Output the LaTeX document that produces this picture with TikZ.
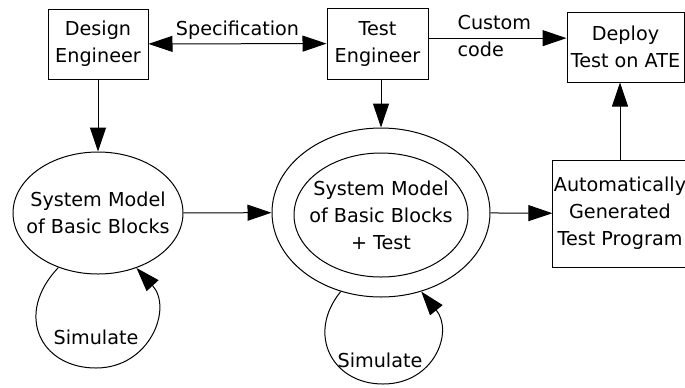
\documentclass[tikz,border=0pt]{standalone}
\usepackage{fontspec}
\setmainfont{DejaVu Sans}
\usetikzlibrary{shapes.geometric,arrows.meta}

\tikzset{every picture/.style={line width=0.75pt}}
\tikzset{
  blk/.style={draw, rectangle, align=center, inner sep=0.75pt},
  bubble/.style={draw, ellipse, inner sep=0pt},
  txt/.style={inner sep=0.75pt, align=center},
  flow/.style={-{Triangle[length=18pt,width=12pt]}},
  both/.style={{Triangle[length=18pt,width=12pt]}-{Triangle[length=18pt,width=12pt]}},
}

\begin{document}
\begin{tikzpicture}[x=0.75pt,y=0.75pt,yscale=-1,xscale=1,font=\fontsize{14.4pt}{20.25pt}\selectfont]
	\useasboundingbox (0,0) rectangle (685,387);
	
	%Shape: Rectangle [design]
	\node[blk, minimum width=75pt, minimum height=52.5pt] (design) at (98,44) {Design\\Engineer};
	%Shape: Rectangle [tester]
	\node[blk, minimum width=75.75pt, minimum height=53.25pt] (tester) at (377.5,43.5) {Test\\Engineer};
	%Shape: Rectangle [deploy]
	\node[blk, minimum width=87.75pt, minimum height=52.5pt] (deploy) at (625.5,47) {Deploy\\Test on ATE};
	%Shape: Rectangle [autogen]
	\node[blk, minimum width=100.5pt, minimum height=80.25pt] (autogen) at (620,213.5) {Automatically\\Generated\\Test Program};
	
	%Shape: Ellipse [basic]
	\node[bubble, minimum width=127.5pt, minimum height=91.5pt, label={[txt]center:{System Model\\of Basic Blocks}}] (basic) at (98,213) {};
	%Shape: Ellipse [outer]
	\node[bubble, minimum width=163.5pt, minimum height=126.75pt] (outer) at (381,212.5) {};
	%Shape: Ellipse [model]
	\node[bubble, minimum width=130.5pt, minimum height=93pt, label={[txt]center:{System Model\\of Basic Blocks\\+ Test}}] (model) at (381,215) {};
	
	%Straight Lines
	\draw[both] (design) -- node[above, inner sep=3pt] (spec) {Specification} (tester);
	\draw[flow] (tester.6.5) -- node[pos=0.2, anchor=west, align=left, inner sep=0.75pt, yshift=1.5pt] (custom) {Custom\\code} (tester.6.5 -| deploy.west);
	\draw[flow] (design.south -| basic) -- (basic.north);
	\draw[flow] (tester.south -| outer) -- (outer.north);
	\draw[flow] (basic) -- (outer);
	\draw[flow] (outer) -- (autogen);
	\draw[flow] (autogen.north) -- (autogen.north |- deploy.south);
	
	%Curve Lines
	\draw[flow] (basic.234) .. controls (14,314) and (40,368) .. (96,368) .. controls (150,368) and (173,308) .. (basic.305);
	\draw[flow] (outer.243) .. controls (306,334) and (332,384) .. (383,384) .. controls (434,384) and (454,332) .. (outer.297);
	
	% Text Node
	\node[txt] (simA) at (96,337) {Simulate};
	% Text Node
	\node[txt] (simB) at (380,360) {Simulate};
	
\end{tikzpicture}
\end{document}
